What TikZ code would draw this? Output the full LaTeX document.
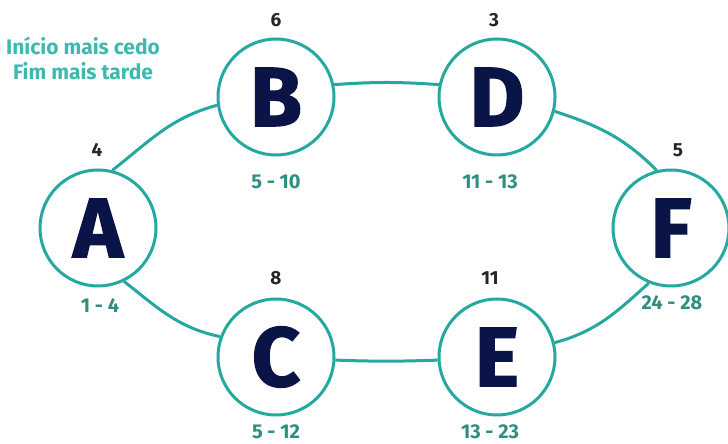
\documentclass[tikz,border=0pt]{standalone}
\usepackage{fontspec}
\setmainfont{Fira Sans}
\newfontfamily\heavyfont[BoldFeatures={FakeBold=1.6}]{Fira Sans}
\usepackage{tikz}
\usetikzlibrary{calc}

\definecolor{tealline}{HTML}{25A89E}
\definecolor{tealtext}{HTML}{2E8E80}
\definecolor{legendtext}{HTML}{3DB9B0}
\definecolor{navy}{HTML}{0B1446}

\tikzset{
    task/.style={circle, draw=tealline, line width=3pt, fill=white, minimum size=116pt, inner sep=0pt,
        text=navy, font=\fontsize{84}{84}\heavyfont\bfseries},
    dur/.style={text=black!85, font=\fontsize{19}{19}\selectfont\bfseries},
    span/.style={text=tealtext, font=\fontsize{20}{20}\selectfont\bfseries},
    link/.style={draw=tealline, line width=3pt}
}

\begin{document}
\begin{tikzpicture}[x=1pt, y=1pt]
    \useasboundingbox (0,0) rectangle (728,444);

    \node[text=legendtext, font=\fontsize{21}{25}\selectfont\bfseries, align=center] (legend) at (83,386) {Início mais cedo\\Fim mais tarde};

    \node[task] (a) at (98,216) {A};
    \node[task] (b) at (276,347) {B};
    \node[task] (d) at (497,347) {D};
    \node[task] (c) at (276,87) {C};
    \node[task] (e) at (497,87) {E};
    \node[task] (f) at (671,216) {F};

    \node[dur] (ta) at (97,294) {4};
    \node[dur] (tb) at (276,424) {6};
    \node[dur] (td) at (494,424) {3};
    \node[dur] (tc) at (276,166) {8};
    \node[dur] (te) at (490,166) {11};
    \node[dur] (tf) at (678,294) {5};

    \node[span] (sa) at (100,138) {1 - 4};
    \node[span] (sb) at (276,262) {5 - 10};
    \node[span] (sd) at (490,262) {11 - 13};
    \node[span] (sc) at (276,12) {5 - 12};
    \node[span] (se) at (490,12) {13 - 23};
    \node[span] (sf) at (672,141) {24 - 28};

    \draw[link] (a.76) to[out=38, in=195] (b.188);
    \draw[link] (b.12) to[out=4, in=176] (d.168);
    \draw[link] (d.-14) to[out=-18, in=135] (f.104);

    \draw[link] (a.-64) to[out=-38, in=168] (c.160);
    \draw[link] (c.-3) to[out=-2, in=182] (e.183);
    \draw[link] (e.14) to[out=15, in=-138] (f.-112);

\end{tikzpicture}
\end{document}
